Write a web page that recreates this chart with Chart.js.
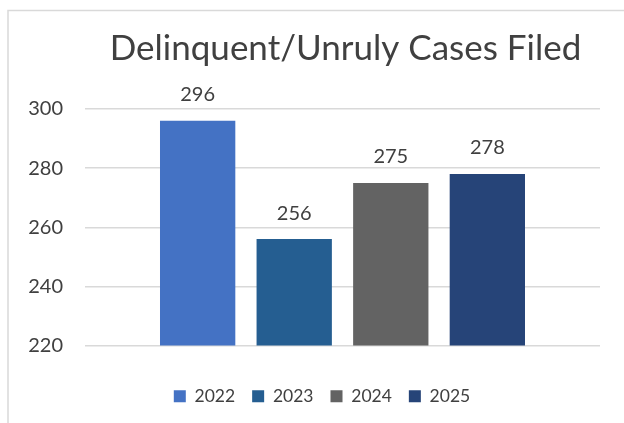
<!DOCTYPE html>
<html><head><meta charset="utf-8">
<script src="https://cdn.jsdelivr.net/npm/chart.js@4/dist/chart.umd.min.js"></script>
<style>html,body{margin:0;padding:0;background:#fff;}#wrap{width:624px;height:423px;position:relative;}</style>
</head><body><div id="wrap"><canvas id="c" width="624" height="423"></canvas></div>
<script>
const titleText = "Delinquent/Unruly Cases Filed";
const years = ["2022", "2023", "2024", "2025"];
const values = [296, 256, 275, 278];
const colors = ["#4472C4", "#255E91", "#636363", "#264478"];
const yTicks = [220, 240, 260, 280, 300];

const FONT = "Lato";
const TXT = "#404040";

const framePlugin = {
  id: 'frame',
  afterLayout(chart) {
    if (chart.legend) { chart.legend.left += 13; chart.legend.right += 13; }
  },
  beforeDraw(chart) {
    const ctx = chart.ctx;
    ctx.save();
    ctx.strokeStyle = '#D9D9D9';
    ctx.lineWidth = 1.5;
    ctx.strokeRect(8, 10.5, 700, 500);
    ctx.restore();
  },
  afterDraw(chart) {
    const ctx = chart.ctx;
    const a = chart.chartArea;
    ctx.save();
    ctx.fillStyle = TXT;
    ctx.font = "35px " + FONT;
    ctx.textAlign = 'center';
    ctx.textBaseline = 'alphabetic';
    ctx.fillText(titleText, (a.left + a.right) / 2 + 3, 60);
    ctx.restore();
  }
};

const labelPlugin = {
  id: 'vals',
  afterDatasetsDraw(chart) {
    const ctx = chart.ctx;
    ctx.save();
    ctx.fillStyle = TXT;
    ctx.font = "20px " + FONT;
    ctx.textAlign = 'center';
    ctx.textBaseline = 'middle';
    chart.data.datasets.forEach((ds, i) => {
      const meta = chart.getDatasetMeta(i);
      meta.data.forEach((bar, j) => {
        ctx.fillText(String(ds.data[j]), bar.x, bar.y - 26);
      });
    });
    ctx.restore();
  }
};

new Chart(document.getElementById('c'), {
  type: 'bar',
  data: {
    labels: [""],
    datasets: years.map((y, i) => ({
      label: y,
      data: [values[i]],
      backgroundColor: colors[i],
      borderWidth: 0,
      barPercentage: 0.78,
      categoryPercentage: 0.75
    }))
  },
  options: {
    responsive: false,
    animation: false,
    devicePixelRatio: 1,
    layout: { padding: { left: 18, right: 24, top: 109, bottom: 8 } },
    plugins: {
      title: { display: false },
      legend: {
        position: 'bottom',
        labels: {
          color: TXT, font: { family: FONT, size: 17.5 },
          boxWidth: 12, boxHeight: 12, padding: 17
        }
      },
      tooltip: { enabled: false }
    },
    scales: {
      x: {
        display: true,
        grid: { display: false, drawTicks: false },
        border: { display: false },
        ticks: { display: false },
        afterFit(s) { s.height = 25; }
      },
      y: {
        min: 220, max: 300,
        afterBuildTicks(s) { s.ticks = yTicks.map(v => ({ value: v })); },
        afterFit(s) { s.width = 67; },
        border: { display: false },
        grid: { color: '#D9D9D9', lineWidth: 1.5, drawTicks: false },
        ticks: { color: TXT, font: { family: FONT, size: 20 }, padding: 22 }
      }
    }
  },
  plugins: [framePlugin, labelPlugin]
});
</script></body></html>
